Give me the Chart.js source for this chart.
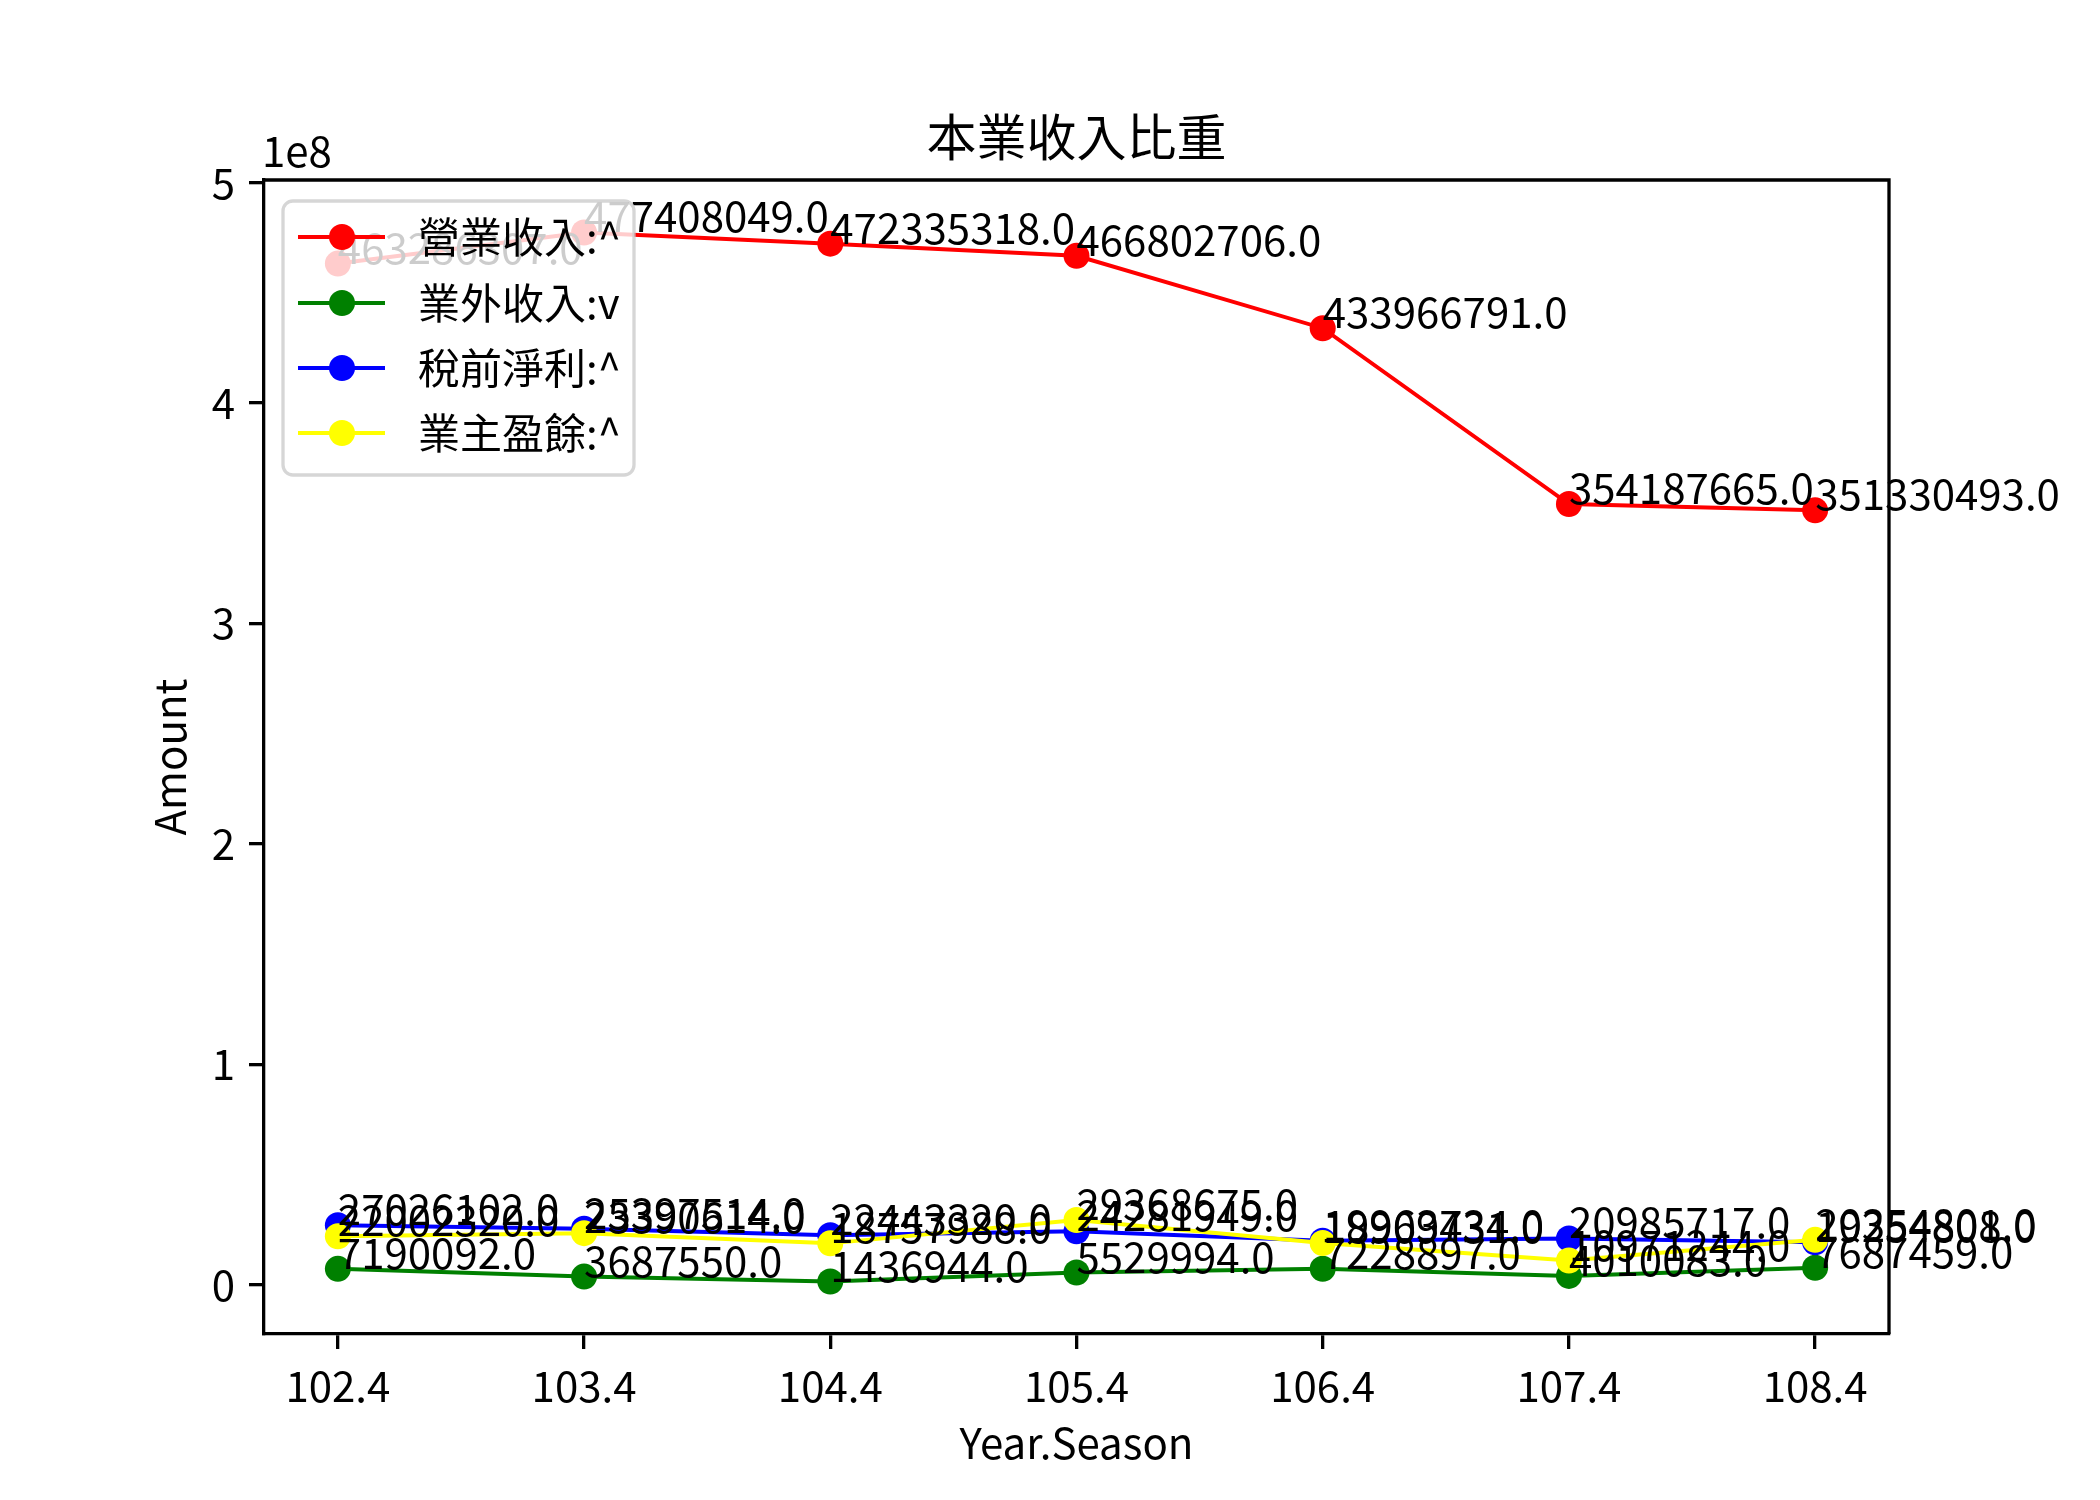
<!DOCTYPE html>
<html>
<head>
<meta charset="utf-8">
<script src="https://cdn.jsdelivr.net/npm/chart.js@4"></script>
<style>
html,body{margin:0;padding:0;background:#fff;}
canvas{display:block;}
</style>
</head>
<body>
<canvas id="c" width="2100" height="1500"></canvas>
<script>
const seasons = ['102.4','103.4','104.4','105.4','106.4','107.4','108.4'];
const operatingRevenue = [463286307, 477408049, 472335318, 466802706, 433966791, 354187665, 351330493];
const nonOperatingIncome = [7190092, 3687550, 1436944, 5529994, 7228897, 4010083, 7687459];
const preTaxIncome = [27026102, 25397514, 22443320, 24281949, 19963734, 20985717, 19254808];
const ownerEarnings = [22002320, 23390614, 18757988, 29368675, 18909431, 10971244, 20354801];
const seriesNames = ['營業收入:^', '業外收入:v', '稅前淨利:^', '業主盈餘:^'];
const seriesColors = ['#ff0000', '#008000', '#0000ff', '#ffff00'];
const yTickValues = [0, 1e8, 2e8, 3e8, 4e8, 5e8];

const FONT = '"Noto Sans CJK TC", "Noto Sans CJK SC", "Noto Sans", sans-serif';
const allSeries = [operatingRevenue, nonOperatingIncome, preTaxIncome, ownerEarnings];

const datasets = allSeries.map((vals, k) => ({
  label: seriesNames[k],
  data: vals.map((v, i) => ({x: i, y: v})),
  borderColor: seriesColors[k],
  backgroundColor: seriesColors[k],
  pointBackgroundColor: seriesColors[k],
  pointBorderColor: seriesColors[k],
  borderWidth: 4,
  pointRadius: 13,
  pointBorderWidth: 0,
  pointHoverRadius: 13,
  tension: 0,
  fill: false,
  order: 4 - k
}));

const custom = {
  id: 'custom',
  afterDatasetsDraw(chart) {
    const ctx = chart.ctx;
    const a = chart.chartArea;
    const xs = chart.scales.x, ys = chart.scales.y;
    ctx.save();
    ctx.strokeStyle = '#000';
    ctx.lineWidth = 3.3;
    ctx.beginPath();
    ctx.moveTo(a.left, a.top); ctx.lineTo(a.right, a.top); ctx.lineTo(a.right, a.bottom);
    ctx.stroke();
    ctx.fillStyle = '#000';
    ctx.font = '42px ' + FONT;
    ctx.textAlign = 'left';
    ctx.textBaseline = 'alphabetic';
    allSeries.forEach(vals => {
      vals.forEach((v, i) => {
        ctx.fillText(v + '.0', xs.getPixelForValue(i), ys.getPixelForValue(v));
      });
    });
    const lx = 283, ly = 201, lw = 351, lh = 274, r = 10;
    ctx.beginPath();
    ctx.moveTo(lx + r, ly);
    ctx.arcTo(lx + lw, ly, lx + lw, ly + lh, r);
    ctx.arcTo(lx + lw, ly + lh, lx, ly + lh, r);
    ctx.arcTo(lx, ly + lh, lx, ly, r);
    ctx.arcTo(lx, ly, lx + lw, ly, r);
    ctx.closePath();
    ctx.fillStyle = 'rgba(255,255,255,0.8)';
    ctx.fill();
    ctx.strokeStyle = 'rgba(204,204,204,0.8)';
    ctx.lineWidth = 3.3;
    ctx.stroke();
    const rows = [237, 303, 368, 433];
    seriesNames.forEach((name, k) => {
      const y = rows[k];
      ctx.strokeStyle = seriesColors[k];
      ctx.lineWidth = 4;
      ctx.beginPath(); ctx.moveTo(298, y); ctx.lineTo(385, y); ctx.stroke();
      ctx.fillStyle = seriesColors[k];
      ctx.beginPath(); ctx.arc(342, y, 13, 0, Math.PI * 2); ctx.fill();
      ctx.fillStyle = '#000';
      ctx.font = '42px ' + FONT;
      ctx.textBaseline = 'middle';
      ctx.fillText(name, 418, y);
    });
    ctx.fillStyle = '#000';
    ctx.textAlign = 'center';
    ctx.textBaseline = 'middle';
    ctx.font = '50px ' + FONT;
    ctx.fillText('本業收入比重', (a.left + a.right) / 2, 137);
    ctx.font = '42px ' + FONT;
    ctx.fillText('Year.Season', (a.left + a.right) / 2, 1443);
    ctx.save();
    ctx.translate(170, (a.top + a.bottom) / 2);
    ctx.rotate(-Math.PI / 2);
    ctx.fillText('Amount', 0, 0);
    ctx.restore();
    ctx.textAlign = 'left';
    ctx.fillText('1e8', 262, 151);
    ctx.restore();
  }
};

new Chart(document.getElementById('c'), {
  type: 'line',
  data: { datasets },
  options: {
    responsive: false,
    animation: false,
    devicePixelRatio: 1,
    layout: { padding: { left: 0, top: 180, right: 211, bottom: 0 } },
    plugins: { legend: { display: false }, title: { display: false }, tooltip: { enabled: false } },
    scales: {
      x: {
        type: 'linear',
        min: -0.3, max: 6.3,
        afterBuildTicks: s => { s.ticks = seasons.map((_, i) => ({ value: i })); },
        afterFit: s => { s.height = 166; },
        ticks: {
          callback: v => seasons[v],
          font: { family: FONT, size: 42 },
          color: '#000',
          padding: 12,
          maxRotation: 0,
          autoSkip: false
        },
        grid: { display: true, drawOnChartArea: false, drawTicks: true, tickLength: 15, color: '#000', lineWidth: 3.3 },
        border: { display: true, color: '#000', width: 3.3 }
      },
      y: {
        type: 'linear',
        min: -22361000, max: 501206000,
        afterBuildTicks: s => { s.ticks = yTickValues.map(v => ({ value: v })); },
        afterFit: s => { s.width = 264; },
        ticks: {
          callback: v => String(Math.round(v / 1e8)),
          font: { family: FONT, size: 42 },
          color: '#000',
          padding: 14,
          autoSkip: false
        },
        grid: { display: true, drawOnChartArea: false, drawTicks: true, tickLength: 15, color: '#000', lineWidth: 3.3 },
        border: { display: true, color: '#000', width: 3.3 }
      }
    }
  },
  plugins: [custom]
});
</script>
</body>
</html>
